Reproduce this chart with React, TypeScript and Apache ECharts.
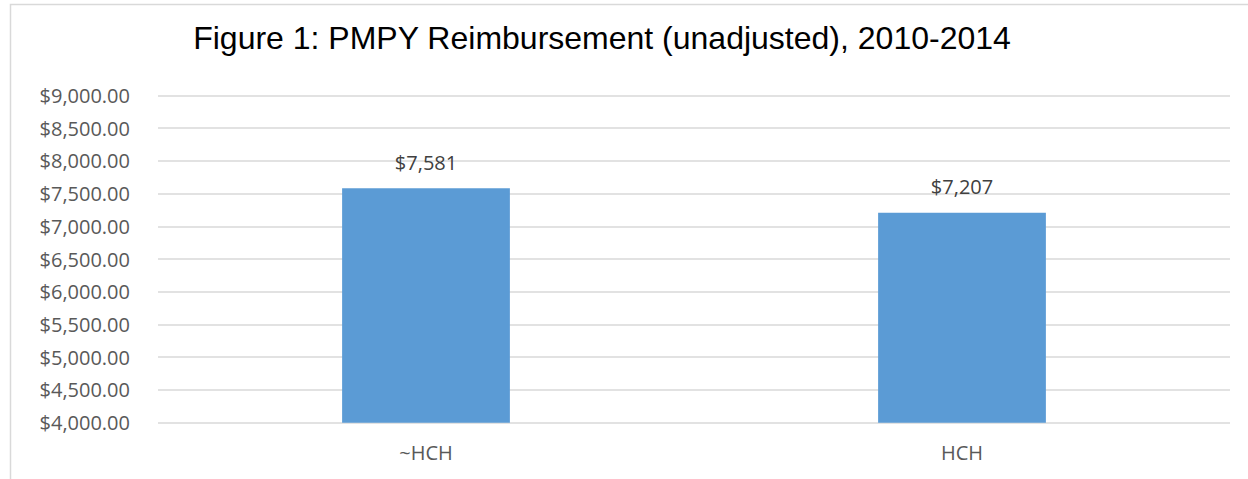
import React, { useEffect, useRef } from "react";
import * as echarts from "echarts";

const categories = ["~HCH", "HCH"];
const values = [7581, 7207];
const yMin = 4000;
const yMax = 9000;
const yStep = 500;
const titleText = "Figure 1: PMPY Reimbursement (unadjusted), 2010-2014";

const fmtMoney2 = (v: number) =>
  "$" + v.toLocaleString("en-US", { minimumFractionDigits: 2, maximumFractionDigits: 2 });
const fmtMoney0 = (v: number) =>
  "$" + v.toLocaleString("en-US", { maximumFractionDigits: 0 });

const labelFont = "Open Sans, Noto Sans, sans-serif";

export default function App() {
  const ref = useRef<HTMLDivElement>(null);
  useEffect(() => {
    if (!ref.current) return;
    const chart = echarts.init(ref.current, null, { renderer: "svg" });
    chart.setOption({
      animation: false,
      backgroundColor: "#ffffff",
      title: {
        text: titleText,
        left: 597,
        top: 17,
        textAlign: "center",
        textStyle: {
          fontFamily: "Liberation Sans, Arial, sans-serif",
          fontSize: 32,
          fontWeight: "normal",
          color: "#000000",
        },
      },
      graphic: [
        {
          type: "rect",
          shape: { x: 10.5, y: 4.5, width: 1400, height: 700 },
          style: { fill: "none", stroke: "#d9d9d9", lineWidth: 1.5 },
          silent: true,
        },
      ],
      grid: { left: 158, right: 18, top: 95.3, bottom: 56.3 },
      xAxis: {
        type: "category",
        data: categories,
        axisLine: { show: false },
        axisTick: { show: false },
        axisLabel: {
          margin: 20,
          color: "#595959",
          fontSize: 20,
          fontFamily: labelFont,
        },
      },
      yAxis: {
        type: "value",
        min: yMin,
        max: yMax,
        interval: yStep,
        axisLine: { show: false },
        axisTick: { show: false },
        splitLine: { lineStyle: { color: "#d9d9d9", width: 1.5 } },
        axisLabel: {
          margin: 28,
          color: "#595959",
          fontSize: 20,
          fontFamily: labelFont,
          formatter: (v: number) => fmtMoney2(v),
        },
      },
      series: [
        {
          type: "bar",
          data: values,
          barWidth: "31.3%",
          itemStyle: { color: "#5b9bd5" },
          label: {
            show: true,
            position: "top",
            distance: 16,
            color: "#404040",
            fontSize: 20,
            fontFamily: labelFont,
            formatter: (p: any) => fmtMoney0(p.value),
          },
        },
      ],
    });
    return () => chart.dispose();
  }, []);
  return (
    <div
      ref={ref}
      style={{ position: "absolute", left: 0, top: 0, width: 1248, height: 479 }}
    />
  );
}
